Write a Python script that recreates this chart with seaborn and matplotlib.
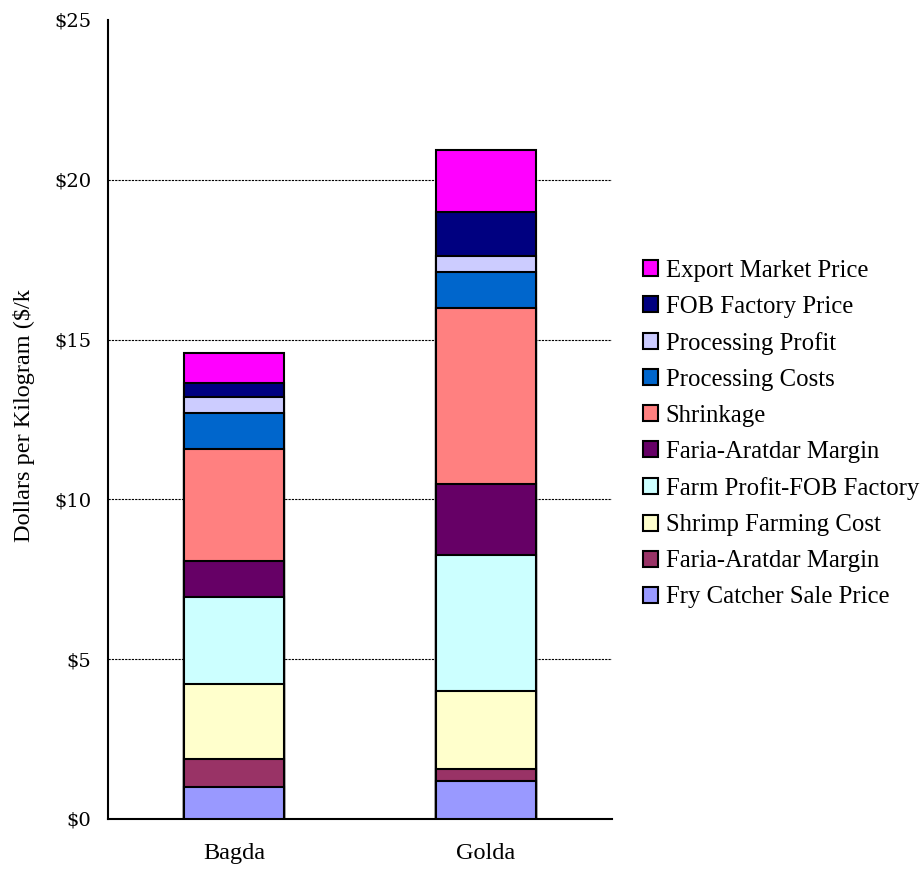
import numpy as np
import pandas as pd
import seaborn as sns
import matplotlib.pyplot as plt
from matplotlib.patches import Patch
from matplotlib.transforms import Bbox, TransformedBbox

categories = ['Bagda', 'Golda']

# stack layers, bottom to top
layers = ['Fry Catcher Sale Price', 'Faria-Aratdar Margin', 'Shrimp Farming Cost',
          'Farm Profit-FOB Factory', 'Faria-Aratdar Margin', 'Shrinkage',
          'Processing Costs', 'Processing Profit', 'FOB Factory Price', 'Export Market Price']
bagda = [1.01, 0.87, 2.33, 2.75, 1.12, 3.51, 1.12, 0.48, 0.46, 0.92]
golda = [1.18, 0.40, 2.43, 4.26, 2.20, 5.52, 1.11, 0.51, 1.38, 1.93]
colors = ['#9999FF', '#993366', '#FFFFCC', '#CCFFFF', '#660066', '#FF8080',
          '#0066CC', '#CCCCFF', '#000080', '#FF00FF']

sns.set_theme(style='white', rc={'text.color': 'black', 'axes.labelcolor': 'black',
                                 'xtick.color': 'black', 'ytick.color': 'black'})
plt.rcParams['font.family'] = ['Liberation Serif', 'DejaVu Serif']

fig = plt.figure(figsize=(9.22, 8.69), dpi=100)
ax = fig.add_axes([108/922, 1-819/869, 504/922, 799/869])

cum_b = np.cumsum(bagda)
cum_g = np.cumsum(golda)

# draw from the top layer down so lower totals overlay the upper ones
for i in range(len(layers)-1, -1, -1):
    df = pd.DataFrame({'cat': categories, 'val': [cum_b[i], cum_g[i]]})
    sns.barplot(data=df, x='cat', y='val', color=colors[i], saturation=1,
                edgecolor='black', linewidth=1.5, width=0.4, ax=ax, zorder=3)

ax.set_xlim(-0.5, 1.5)
ax.set_ylim(0, 25)
ax.set_yticks([0, 5, 10, 15, 20, 25])
ax.set_yticklabels(['$0', '$5', '$10', '$15', '$20', '$25'], family='DejaVu Serif')
ax.set_xticks([0, 1])
ax.set_xticklabels(categories)
ax.set_xticks([-0.5, 0.5, 1.5], minor=True)
ax.tick_params(axis='x', which='major', length=0, labelsize=17.5, pad=17)
ax.tick_params(axis='x', which='minor', length=7, width=1.3, direction='out', color='black')
ax.tick_params(axis='y', length=7, width=1.3, direction='out', color='black', labelsize=14, pad=5)
for v in [5, 10, 15, 20]:
    ax.axhline(v, color='black', linewidth=0.8, linestyle=(0, (2, 1)), zorder=1)

for s in ['top', 'right']:
    ax.spines[s].set_visible(False)
for s in ['left', 'bottom']:
    ax.spines[s].set_color('black')
    ax.spines[s].set_linewidth(1.5)

ax.set_xlabel('')
ylab = ax.set_ylabel('Dollars per Kilogram ($/kg)', fontsize=17.5)
ax.yaxis.set_label_coords(-0.145, 0.517)
# the original label is cut off at the top
ylab.set_clip_box(TransformedBbox(Bbox([[0, 0], [1, 1-290/869]]), fig.transFigure))
ylab.set_clip_on(True)

handles = [Patch(facecolor=colors[i], edgecolor='black', linewidth=1.5, label=layers[i])
           for i in range(len(layers)-1, -1, -1)]
fig.legend(handles=handles, loc='center left', bbox_to_anchor=(643/922, 1-434/869),
           frameon=False, fontsize=17.8, handlelength=0.62, handleheight=0.62,
           handletextpad=0.3, labelspacing=0.57, borderpad=0, borderaxespad=0,
           labelcolor='black')

fig.savefig('out.png', dpi=100)
